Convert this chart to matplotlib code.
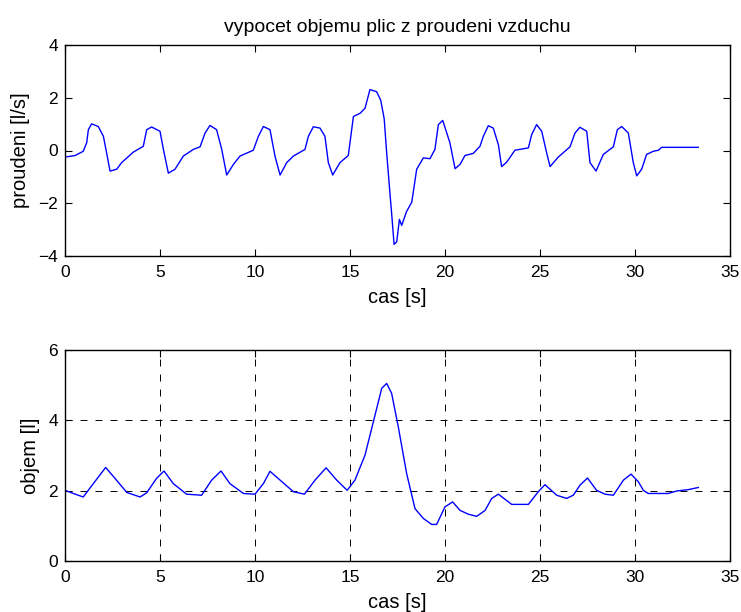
import matplotlib
matplotlib.use("Agg")
import matplotlib.pyplot as plt
import numpy as np

plt.rcParams['font.family'] = ['Liberation Sans', 'DejaVu Sans']
plt.rcParams['lines.scale_dashes'] = False

# Flow (proudeni) [l/s] vs time [s]
flow_t = [0.0, 0.53, 0.96, 1.14, 1.23, 1.40, 1.75, 2.02, 2.19, 2.37, 2.72, 2.98, 3.60, 4.12,
          4.30, 4.56, 5.00, 5.18, 5.44, 5.79, 6.23, 6.75, 7.11, 7.37, 7.63, 7.98, 8.25, 8.51,
          8.86, 9.21, 9.91, 10.18, 10.44, 10.79, 11.05, 11.32, 11.67, 12.02, 12.63, 12.81,
          13.07, 13.42, 13.68, 13.86, 14.09, 14.47, 14.91, 15.18, 15.53, 15.79, 16.05, 16.40,
          16.62, 16.80, 16.93, 17.10, 17.20, 17.32, 17.46, 17.60, 17.72, 17.98, 18.25, 18.51,
          18.86, 19.21, 19.47, 19.65, 19.88, 20.26, 20.53, 20.79, 21.05, 21.49, 21.84, 22.02,
          22.28, 22.54, 22.81, 22.98, 23.25, 23.68, 24.39, 24.56, 24.82, 25.09, 25.35, 25.53,
          25.96, 26.58, 26.84, 27.10, 27.46, 27.63, 27.95, 28.33, 28.86, 29.07, 29.30, 29.65,
          29.91, 30.09, 30.35, 30.61, 30.96, 31.23, 31.40, 33.33]
flow_v = [-0.25, -0.19, -0.03, 0.29, 0.79, 1.01, 0.91, 0.54, -0.09, -0.78, -0.71, -0.46, -0.06, 0.16,
          0.79, 0.89, 0.73, 0.04, -0.86, -0.71, -0.21, 0.04, 0.14, 0.66, 0.95, 0.79, 0.04, -0.93,
          -0.53, -0.21, 0.01, 0.54, 0.91, 0.79, -0.21, -0.93, -0.46, -0.21, 0.04, 0.54,
          0.90, 0.85, 0.54, -0.46, -0.93, -0.46, -0.19, 1.29, 1.41, 1.60, 2.31, 2.23,
          1.90, 1.20, -0.09, -1.60, -2.46, -3.56, -3.46, -2.61, -2.84, -2.31, -1.96, -0.71,
          -0.28, -0.31, 0.04, 0.98, 1.14, 0.29, -0.69, -0.53, -0.19, -0.11, 0.16, 0.54,
          0.94, 0.85, 0.22, -0.61, -0.44, 0.01, 0.10, 0.60, 0.98, 0.73, -0.09, -0.61,
          -0.25, 0.14, 0.66, 0.88, 0.73, -0.46, -0.78, -0.15, 0.14, 0.79, 0.91, 0.66,
          -0.46, -0.96, -0.71, -0.15, -0.03, 0.01, 0.12, 0.12]

# Volume (objem) [l] vs time [s]
vol_t = [0.0, 0.44, 0.96, 1.49, 2.14, 2.63, 3.25, 3.95, 4.30, 4.82, 5.21, 5.70, 6.40, 7.19,
         7.72, 8.21, 8.68, 9.39, 10.0, 10.44, 10.79, 11.32, 12.02, 12.60, 13.16, 13.74, 14.30,
         14.85, 15.26, 15.79, 16.23, 16.67, 16.93, 17.19, 17.54, 17.98, 18.42, 18.86, 19.30,
         19.56, 20.0, 20.40, 20.79, 21.23, 21.67, 22.11, 22.46, 22.81, 23.51, 24.39, 24.91,
         25.26, 25.88, 26.40, 26.75, 27.11, 27.50, 27.98, 28.42, 28.86, 29.39, 29.79, 30.18,
         30.44, 30.70, 31.75, 32.19, 32.81, 33.33]
vol_v = [2.01, 1.92, 1.82, 2.20, 2.66, 2.35, 1.95, 1.82, 1.94, 2.35, 2.56, 2.20, 1.90, 1.87,
         2.30, 2.56, 2.20, 1.92, 1.90, 2.20, 2.55, 2.30, 1.97, 1.90, 2.30, 2.65, 2.30,
         2.01, 2.30, 3.01, 3.96, 4.91, 5.05, 4.77, 3.82, 2.49, 1.49, 1.21, 1.04,
         1.04, 1.54, 1.68, 1.44, 1.33, 1.27, 1.44, 1.78, 1.90, 1.61, 1.61, 1.97,
         2.17, 1.87, 1.78, 1.87, 2.16, 2.36, 2.01, 1.90, 1.87, 2.30, 2.47, 2.25,
         2.01, 1.92, 1.92, 1.99, 2.03, 2.09]

x_ticks = [0, 5, 10, 15, 20, 25, 30, 35]
flow_yticks = [-4, -2, 0, 2, 4]
vol_yticks = [0, 2, 4, 6]

W, H = 741, 612
fig = plt.figure(figsize=(W / 100, H / 100), dpi=100)
ax1 = fig.add_axes([65 / W, 1 - 256 / H, (730 - 65) / W, (256 - 45) / H])
ax2 = fig.add_axes([65 / W, 1 - 561 / H, (730 - 65) / W, (561 - 350) / H])

fs = 12.5
lfs = 14.5
for ax in (ax1, ax2):
    ax.set_xlim(0, 35)
    ax.set_xticks(x_ticks)
    ax.tick_params(direction='in', top=True, right=True, length=5, width=0.8,
                   labelsize=fs)
    ax.tick_params(axis='x', pad=6.5)
    ax.tick_params(axis='y', pad=5)
    for s in ax.spines.values():
        s.set_linewidth(1.0)

ax1.plot(flow_t, flow_v, color='#0000ff', lw=1.0)
ax1.set_ylim(-4, 4)
ax1.set_yticks(flow_yticks)
ax1.set_xlabel('cas [s]', fontsize=lfs, labelpad=6)
ax1.set_ylabel('proudeni [l/s]', fontsize=lfs, labelpad=6)
ax1.set_title('vypocet objemu plic z proudeni vzduchu', fontsize=14, pad=9)

ax2.plot(vol_t, vol_v, color='#0000ff', lw=1.0)
ax2.set_ylim(0, 6)
ax2.set_yticks(vol_yticks)
ax2.grid(True, color='black', linestyle=(0, (5, 5.8)), linewidth=0.7)
ax2.set_axisbelow(True)
ax2.set_xlabel('cas [s]', fontsize=lfs, labelpad=6)
ax2.set_ylabel('objem [l]', fontsize=lfs, labelpad=6)

fig.savefig('out.png', dpi=100)
